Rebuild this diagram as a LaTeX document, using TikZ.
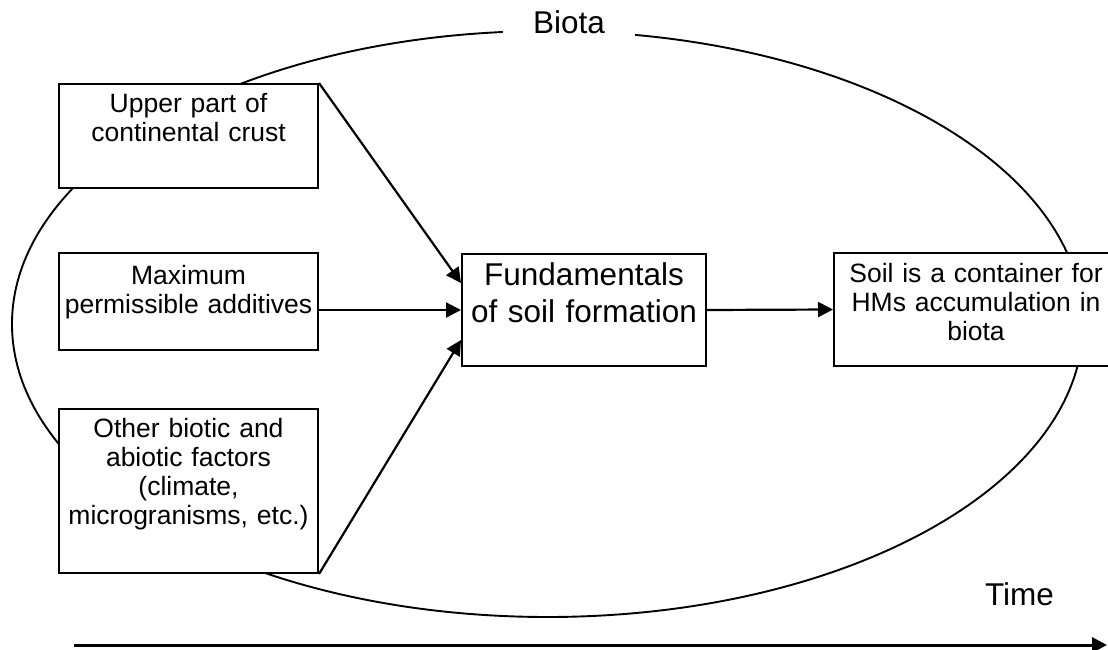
\documentclass[tikz,border=0pt]{standalone}
\usepackage{fontspec}
\setmainfont{Liberation Sans}
\usepackage{xcolor}
\usepackage{tikz}
\usetikzlibrary{calc,positioning,arrows.meta}
\definecolor{ink}{HTML}{000000}

\tikzset{
  factor/.style={rectangle, draw=ink, fill=white, line width=2pt, inner sep=4pt, align=center, font=\fontsize{26.5}{29}\selectfont\color{ink}},
  bigbox/.style={factor, font=\fontsize{31.5}{37}\selectfont\color{ink}},
  flow/.style={-{Triangle[length=15pt, width=15pt]}, ink, line width=2.2pt}
}

\begin{document}
\begin{tikzpicture}[x=1pt, y=-1pt]
\useasboundingbox (0,0) rectangle (1108,650);

% Biota ellipse
\draw[ink, line width=1.9pt] (547.5,324) ellipse [x radius=535.5pt, y radius=293pt];
\node[fill=white, inner xsep=30pt, inner ysep=2pt, font=\fontsize{31.5}{37}\selectfont\color{ink}] (biota) at (569,22) {Biota};

% Factors
\node[factor, text width=251pt, text height=25pt, text depth=71pt] (up) at (188.5,136) {Upper part of\\continental crust};
\node[factor, text width=251pt, text height=27pt, text depth=62pt] (max) at (188.5,301.5) {Maximum\\permissible additives};
\node[factor, text width=251pt, text height=24pt, text depth=132pt] (oth) at (188.5,491) {Other biotic and\\abiotic factors\\(climate,\\microgranisms, etc.)};

% Centre and result
\node[bigbox, text width=236pt, text height=27pt, text depth=77pt] (fund) at (584,310) {Fundamentals\\of soil formation};
\node[factor, text width=276pt, text height=25pt, text depth=80pt] (soil) at (976,309.5) {Soil is a container for\\HMs accumulation in\\biota};

% Arrows
\draw[flow] (up.north east) -- ([yshift=27pt]fund.west);
\draw[flow] (fund.west -| max.east) -- (fund.west);
\draw[flow] (oth.south east) -- ([yshift=-30pt]fund.west);
\draw[flow] (fund.east) -- (soil.west);

% Time axis
\node[font=\fontsize{31.5}{37}\selectfont\color{ink}] (time) at (1019.5,594) {Time};
\coordinate (t0) at (74,645);
\coordinate (t1) at (1107,645);
\draw[flow, line width=3pt] (t0) -- (t1);

\end{tikzpicture}
\end{document}
